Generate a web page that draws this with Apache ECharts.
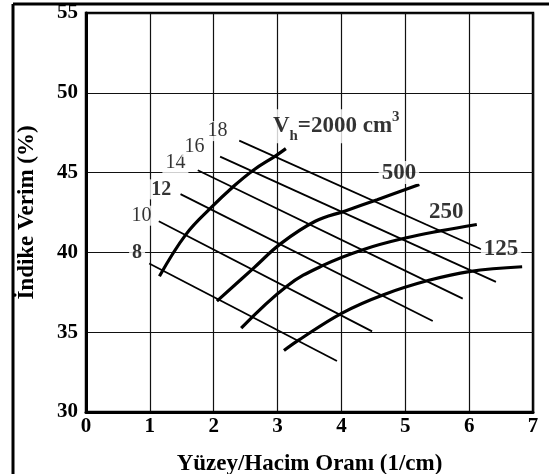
<!DOCTYPE html>
<html>
<head>
<meta charset="utf-8">
<script src="https://cdn.jsdelivr.net/npm/echarts@6/dist/echarts.min.js"></script>
<style>
  html, body { margin: 0; padding: 0; background: #fff; }
  #chart { width: 549px; height: 474px; }
</style>
</head>
<body>
<div id="chart"></div>
<script>
// sıkıştırma oranı çizgileri (ince), başlangıç / bitiş noktaları
const ratioNames = ['8', '10', '12', '14', '16', '18']
const ratioStart = [[0.99, 39.3], [1.14, 41.95], [1.48, 43.65], [1.75, 45.15], [2.1, 46.0], [2.4, 47.0]]
const ratioEnd = [[3.93, 33.2], [4.48, 35.05], [5.43, 35.7], [5.9, 37.1], [6.42, 38.15], [6.19, 40.2]]

// silindir hacmi eğrileri (kalın)
const vol2000 = [[1.15, 38.5], [1.56, 41.1], [1.97, 42.85], [2.3, 44.1], [2.62, 45.15], [2.97, 46.05], [3.13, 46.5]]
const vol500 = [[2.05, 36.95], [2.62, 39.0], [3.05, 40.55], [3.59, 41.95], [4.06, 42.6], [4.56, 43.3], [5.22, 44.25]]
const vol250 = [[2.43, 35.25], [3.15, 37.9], [3.72, 39.2], [4.36, 40.2], [5.0, 40.9], [5.55, 41.35], [6.12, 41.75]]
const vol125 = [[3.1, 33.85], [3.33, 34.5], [4.01, 36.2], [4.66, 37.35], [5.37, 38.25], [6.0, 38.8], [6.83, 39.1]]

// eğri etiketleri
const labelNames = ['8', '10', '12', '14', '16', '18', '500', '250', '125']
const labelSpots = [[0.8, 40], [0.87, 42.3], [1.18, 43.95], [1.4, 45.6], [1.7, 46.6], [2.06, 47.6], [4.9, 45.0], [5.64, 42.55], [6.5, 40.2]]
const volTitleSpot = [2.88, 47.9]

const xTicks = [0, 1, 2, 3, 4, 5, 6, 7]
const yTicks = [30, 35, 40, 45, 50, 55]

const FONT = "'Liberation Serif', 'DejaVu Serif', serif"
const myChart = echarts.init(document.getElementById('chart'))

const series = []
ratioNames.forEach((n, i) => {
  series.push({
    name: 'r' + n,
    type: 'line',
    data: [ratioStart[i], ratioEnd[i]],
    symbol: 'none',
    lineStyle: { color: '#000', width: 1.8 },
    z: 3
  })
})
;[vol2000, vol500, vol250, vol125].forEach((d, i) => {
  series.push({
    name: 'v' + i,
    type: 'line',
    data: d,
    smooth: 0.4,
    symbol: 'none',
    lineStyle: { color: '#000', width: 3.2 },
    z: 4
  })
})

const labelData = labelNames.map((n, i) => {
  const bold = i >= 6 || n === '8' || n === '12'
  return {
    value: labelSpots[i],
    name: n,
    label: {
      fontSize: i >= 6 ? 23 : 20,
      fontWeight: bold ? 'bold' : 'normal'
    }
  }
})
labelData.push({
  value: volTitleSpot,
  name: 'vh',
  label: {
    position: 'right',
    distance: 0,
    formatter: '{v|V}{h|h}{t|=2000 cm}{p|3}',
    rich: {
      v: { fontFamily: FONT, fontWeight: 'bold', fontSize: 23, color: '#000', verticalAlign: 'middle', lineHeight: 34 },
      h: { fontFamily: FONT, fontWeight: 'bold', fontSize: 15, color: '#000', verticalAlign: 'bottom', lineHeight: 15 },
      t: { fontFamily: FONT, fontWeight: 'bold', fontSize: 23, color: '#000', verticalAlign: 'middle', lineHeight: 34 },
      p: { fontFamily: FONT, fontWeight: 'bold', fontSize: 15, color: '#000', verticalAlign: 'top', lineHeight: 15 }
    }
  }
})

series.push({
  name: 'labels',
  type: 'scatter',
  data: labelData,
  symbolSize: 0,
  silent: true,
  z: 6,
  label: {
    show: true,
    position: 'inside',
    formatter: '{b}',
    color: '#000',
    fontFamily: FONT,
    backgroundColor: '#fff',
    padding: [0, 3]
  }
})

const option = {
  backgroundColor: '#fff',
  animation: false,
  grid: {
    left: 86, right: 16, top: 13, bottom: 62,
    outerBoundsMode: 'none',
    show: true, borderColor: '#000', borderWidth: 2.5
  },
  xAxis: {
    type: 'value',
    min: xTicks[0],
    max: xTicks[xTicks.length - 1],
    interval: 1,
    name: 'Yüzey/Hacim Oranı (1/cm)',
    nameLocation: 'middle',
    nameGap: 41,
    nameTextStyle: { fontFamily: FONT, fontWeight: 'bold', fontSize: 23, color: '#000' },
    axisLine: { show: true, lineStyle: { color: '#000', width: 3 } },
    axisTick: { show: false },
    axisLabel: { fontFamily: FONT, fontWeight: 'bold', fontSize: 21, color: '#000', margin: 4 },
    splitLine: { show: true, lineStyle: { color: '#111', width: 1.2 } }
  },
  yAxis: {
    type: 'value',
    min: yTicks[0],
    max: yTicks[yTicks.length - 1],
    interval: 5,
    name: 'İndike Verim (%)',
    nameLocation: 'middle',
    nameGap: 47,
    nameTextStyle: { fontFamily: FONT, fontWeight: 'bold', fontSize: 23, color: '#000' },
    axisLine: { show: true, lineStyle: { color: '#000', width: 3 } },
    axisTick: { show: false },
    axisLabel: { fontFamily: FONT, fontWeight: 'bold', fontSize: 21, color: '#000', margin: 8 },
    splitLine: { show: true, lineStyle: { color: '#111', width: 1.2 } }
  },
  graphic: [
    // taranmış sayfanın çerçevesi (sol ve üst)
    { type: 'line', shape: { x1: 13, y1: 4, x2: 13, y2: 474 }, style: { stroke: '#000', lineWidth: 3 } },
    { type: 'line', shape: { x1: 13, y1: 4, x2: 549, y2: 4 }, style: { stroke: '#000', lineWidth: 3 } }
  ],
  series: series
}

myChart.setOption(option)
</script>
</body>
</html>
